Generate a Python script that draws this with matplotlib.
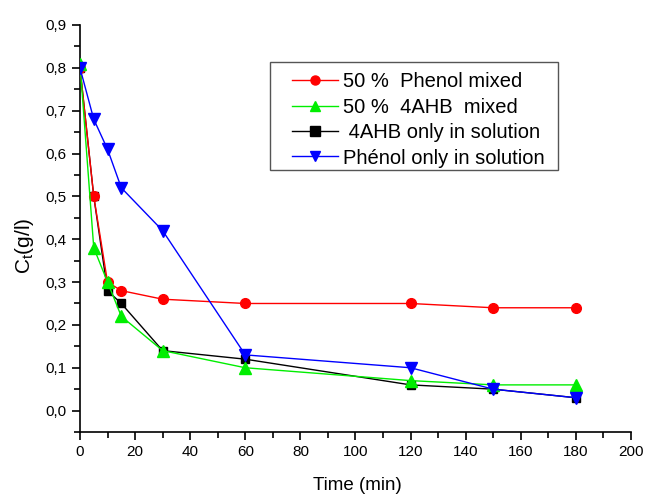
import matplotlib
matplotlib.use("Agg")
import matplotlib.pyplot as plt
from matplotlib.patches import Rectangle
from matplotlib.ticker import MultipleLocator, FuncFormatter

plt.rcParams['font.family'] = ['Liberation Sans', 'DejaVu Sans']

time = [0, 5, 10, 15, 30, 60, 120, 150, 180]
phenol_mixed = [0.80, 0.50, 0.30, 0.28, 0.26, 0.25, 0.25, 0.24, 0.24]
ahb_mixed = [0.81, 0.38, 0.30, 0.22, 0.14, 0.10, 0.07, 0.06, 0.06]
ahb_only = [0.80, 0.50, 0.28, 0.25, 0.14, 0.12, 0.06, 0.05, 0.03]
phenol_only = [0.80, 0.68, 0.61, 0.52, 0.42, 0.13, 0.10, 0.05, 0.03]

labels = ['50 %  Phenol mixed', '50 %  4AHB  mixed', ' 4AHB only in solution', 'Phénol only in solution']

fig = plt.figure(figsize=(6.46, 4.96), dpi=100)
ax = fig.add_axes([0.1238, 0.129, 0.853, 0.8206])

l1, = ax.plot(time, phenol_mixed, color='#ff0000', marker='o', markersize=7, lw=1, zorder=4, label=labels[0])
l2, = ax.plot(time, ahb_mixed, color='#00ee00', marker='^', markersize=8, lw=1, zorder=5, label=labels[1])
l3, = ax.plot(time, ahb_only, color='#000000', marker='s', markersize=6, lw=1, zorder=3, label=labels[2])
l4, = ax.plot(time, phenol_only, color='#0000ff', marker='v', markersize=8, lw=1, zorder=6, label=labels[3])

ax.set_xlim(0, 200)
ax.set_ylim(-0.05, 0.9)
ax.spines['top'].set_visible(False)
ax.spines['right'].set_visible(False)
for s in ('left', 'bottom'):
    ax.spines[s].set_linewidth(1.2)

ax.xaxis.set_major_locator(MultipleLocator(20))
ax.xaxis.set_minor_locator(MultipleLocator(10))
ax.yaxis.set_major_locator(MultipleLocator(0.1))
ax.yaxis.set_minor_locator(MultipleLocator(0.05))
ax.yaxis.set_major_formatter(FuncFormatter(lambda v, p: f"{v:.1f}".replace('.', ',')))
ax.tick_params(which='major', direction='out', length=6, width=1.2, labelsize=11)
ax.tick_params(which='minor', direction='out', length=4, width=1.2)

ax.set_xlabel('Time (min)', fontsize=13.5)
ax.set_ylabel(r'C$_\mathregular{t}$(g/l)', fontsize=15)
ax.xaxis.set_label_coords(0.503, -0.11)
ax.yaxis.set_label_coords(-0.08, 0.457)

# legend frame
ax.add_patch(Rectangle((0.3448, 0.6437), 0.8675 - 0.3448, 0.909 - 0.6437,
                       transform=ax.transAxes, facecolor='white', edgecolor='#555555',
                       linewidth=1.0, zorder=9, clip_on=False))
leg = ax.legend(handles=[l1, l2, l3, l4], loc='upper left', bbox_to_anchor=(0.3848, 0.884),
                borderaxespad=0, borderpad=0, fontsize=14.5, frameon=False, handlelength=2.3,
                handletextpad=0.25, labelspacing=0.32)
leg.set_zorder(10)
for h in leg.legend_handles:
    h.set_markersize(6.5)

fig.savefig('out.png', dpi=100)
